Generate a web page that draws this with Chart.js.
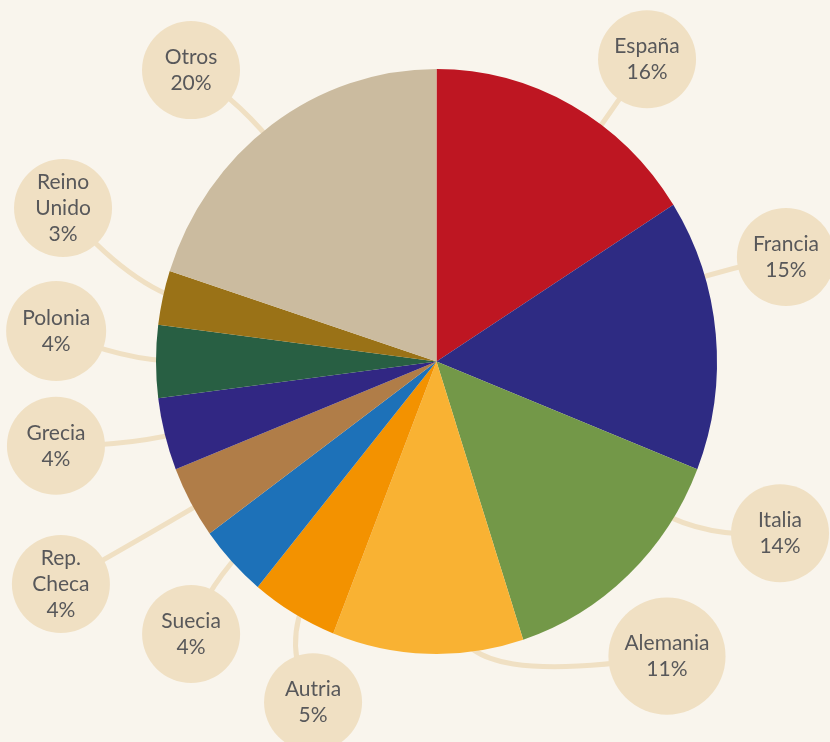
<!DOCTYPE html>
<html lang="es">
<head>
    <meta charset="UTF-8">
    <title>Reparto por países</title>
    <script src="https://cdn.jsdelivr.net/npm/chart.js"></script>
    <style>
        body {
            margin: 0;
            padding: 0;
            background-color: #f9f5ed;
        }

        .chart-box {
            position: relative;
            width: 830px;
            height: 742px;
        }
    </style>
</head>
<body>
    <div class="chart-box">
        <canvas id="pieChart"></canvas>
    </div>
    <script>
        // Data
        const countries = ['España', 'Francia', 'Italia', 'Alemania', 'Autria', 'Suecia', 'Rep. Checa', 'Grecia', 'Polonia', 'Reino Unido', 'Otros'];
        const shares = [16, 15, 14, 11, 5, 4, 4, 4, 4, 3, 20];
        const sliceColors = ['#be1622', '#2e2b83', '#739848', '#f9b233', '#f39200', '#1d71b8', '#b07d48', '#312783', '#285f43', '#9a7217', '#cbbb9f'];

        // Bubble layout: angle (deg, clockwise from top) and distance in pie radii
        const bubbleAngle = [36, 74, 115.6, 140.8, 200.7, 223.2, 240.4, 258, 274.4, 291.5, 318.7];
        const bubbleDist = [1.277, 1.296, 1.358, 1.30, 1.245, 1.278, 1.54, 1.387, 1.36, 1.431, 1.326];
        // where each connector leaves the pie
        const connectorAngle = [36, 73, 123, 175, 210, 227, 240, 255, 270, 283, 322];

        const STRETCH_Y = 292.5 / 280.5;   // pie is a bit taller than wide
        const BUBBLE_FILL = '#f0e0c3';
        const TEXT_COLOR = '#58585a';
        const FONT = '21px Lato';
        const LINE_H = 26;

        function pieGeom(chart) {
            const arc = chart.getDatasetMeta(0).data[0];
            return { cx: arc.x, cy: arc.y, rx: arc.outerRadius, ry: arc.outerRadius * STRETCH_Y };
        }

        function pointAt(g, deg, k) {
            const a = deg * Math.PI / 180;
            return { x: g.cx + k * g.rx * Math.sin(a), y: g.cy - k * g.ry * Math.cos(a) };
        }

        const bubblePlugin = {
            id: 'bubbles',
            beforeDatasetsDraw(chart) {
                const ctx = chart.ctx;
                const g = pieGeom(chart);
                // connectors first, the pie covers their inner end
                ctx.save();
                ctx.strokeStyle = BUBBLE_FILL;
                ctx.lineWidth = 5;
                ctx.lineCap = 'round';
                countries.forEach((c, i) => {
                    const p0 = pointAt(g, connectorAngle[i], 0.9);
                    const p1 = pointAt(g, connectorAngle[i], 1.12);
                    const p2 = pointAt(g, bubbleAngle[i], bubbleDist[i]);
                    ctx.beginPath();
                    ctx.moveTo(p0.x, p0.y);
                    ctx.quadraticCurveTo(p1.x, p1.y, p2.x, p2.y);
                    ctx.stroke();
                });
                ctx.restore();
                // stretch the pie vertically
                ctx.save();
                ctx.translate(g.cx, g.cy);
                ctx.scale(1, STRETCH_Y);
                ctx.translate(-g.cx, -g.cy);
            },
            afterDatasetsDraw(chart) {
                const ctx = chart.ctx;
                ctx.restore();
                const g = pieGeom(chart);
                ctx.save();
                ctx.font = FONT;
                ctx.textAlign = 'center';
                ctx.textBaseline = 'middle';
                countries.forEach((c, i) => {
                    const lines = c.split(' ').concat([shares[i] + '%']);
                    const maxW = Math.max(...lines.map(l => ctx.measureText(l).width));
                    const r = Math.max(49, maxW / 2 + 16);
                    const p = pointAt(g, bubbleAngle[i], bubbleDist[i]);
                    ctx.fillStyle = BUBBLE_FILL;
                    ctx.beginPath();
                    ctx.arc(p.x, p.y, r, 0, Math.PI * 2);
                    ctx.fill();
                    ctx.fillStyle = TEXT_COLOR;
                    const top = p.y - (lines.length - 1) * LINE_H / 2;
                    lines.forEach((l, j) => ctx.fillText(l, p.x, top + j * LINE_H));
                });
                ctx.restore();
            }
        };

        const pieCtx = document.getElementById('pieChart').getContext('2d');
        const pieChart = new Chart(pieCtx, {
            type: 'pie',
            data: {
                labels: countries,
                datasets: [{
                    data: shares,
                    backgroundColor: sliceColors,
                    borderWidth: 0
                }]
            },
            options: {
                responsive: true,
                maintainAspectRatio: false,
                animation: false,
                layout: {
                    padding: { left: 156, right: 113, top: 81, bottom: 100 }
                },
                plugins: {
                    legend: { display: false },
                    tooltip: { enabled: false }
                }
            },
            plugins: [bubblePlugin]
        });
    </script>
</body>
</html>
